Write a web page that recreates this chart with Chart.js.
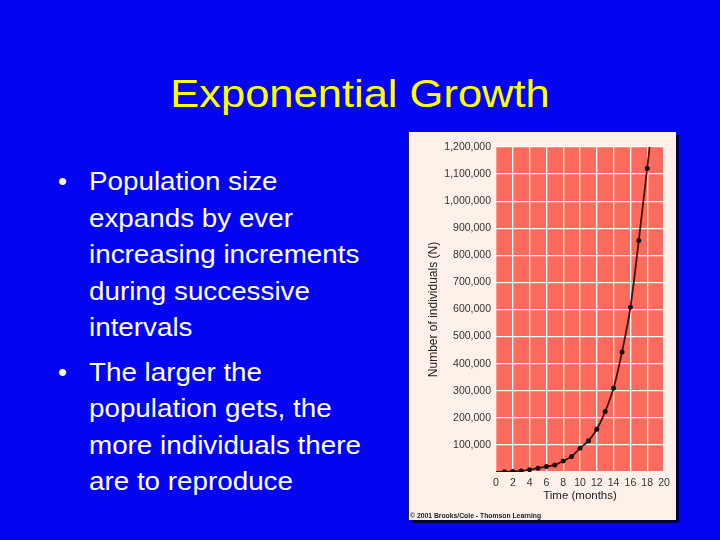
<!DOCTYPE html>
<html>
<head>
<meta charset="utf-8">
<script src="https://cdn.jsdelivr.net/npm/chart.js@4"></script>
<style>
  html, body { margin: 0; padding: 0; }
  body { width: 720px; height: 540px; background: #0404f4; position: relative; overflow: hidden;
         font-family: "Liberation Sans", Arial, sans-serif; }
  #title { position: absolute; left: 0; width: 720px; top: 74px; text-align: center;
           font-size: 39px; line-height: 39px; color: #ffff00;
           transform: scaleX(1.115); transform-origin: 360px 0; }
  .bullets { position: absolute; left: 0; top: 163px; margin: 0; padding: 0; list-style: none;
             color: #ffffff; font-size: 25.5px; line-height: 36.5px; }
  .bullets li { position: relative; padding-left: 89px; margin-bottom: 8px; }
  .bullets li span { display: inline-block; transform: scaleX(1.09); transform-origin: 0 0; white-space: nowrap; }
  .bullets li::before { content: "\2022"; position: absolute; left: 58px; }
  #panel { position: absolute; left: 408px; top: 132px; width: 267px; height: 388px;
           background: #fdf1e9; box-shadow: 3px 3px 0 #00004a; border-left: 1px solid #202040; }
  #panel canvas { position: absolute; left: 0; top: 0; }
  #credit { position: absolute; left: 1px; bottom: 1px; font-size: 6.8px; font-weight: bold; color: #222; }
</style>
</head>
<body>
<div id="title">Exponential Growth</div>
<ul class="bullets">
  <li><span>Population size<br>expands by ever<br>increasing increments<br>during successive<br>intervals</span></li>
  <li><span>The larger the<br>population gets, the<br>more individuals there<br>are to reproduce</span></li>
</ul>
<div id="panel">
  <canvas id="growthChart" width="267" height="388"></canvas>
  <div id="credit">© 2001 Brooks/Cole - Thomson Learning</div>
</div>
<script>
// months on the x axis, N (last entry only carries the line past the top)
const months = [0, 1, 2, 3, 4, 5, 6, 7, 8, 9, 10, 11, 12, 13, 14, 15, 16, 17, 18, 19];
const individuals = [500, 1000, 2000, 4000, 8500, 14000, 20000, 26000, 41000, 57000, 88000,
                     115000, 158000, 223000, 310000, 443000, 608000, 855000, 1121000, 1400000];
const xStep = 2;
const yStep = 100000;
const yMax = 1200000;

const plotBg = {
  id: 'plotBg',
  beforeDraw(chart) {
    const a = chart.chartArea, ctx = chart.ctx;
    ctx.save();
    ctx.fillStyle = '#fe6b5c';
    ctx.fillRect(a.left, a.top, a.right - a.left, a.bottom - a.top);
    ctx.restore();
  }
};

const fam = "'Liberation Sans', Arial, sans-serif";

new Chart(document.getElementById('growthChart'), {
  type: 'line',
  data: {
    datasets: [{
      data: months.map((m, i) => ({ x: m, y: individuals[i] })),
      borderColor: '#4a100c',
      borderWidth: 1.8,
      cubicInterpolationMode: 'monotone',
      pointRadius: months.map(m => (m === 0 || m > 18) ? 0 : 2.5),
      pointBackgroundColor: '#111',
      pointBorderWidth: 0,
      fill: false
    }]
  },
  plugins: [plotBg],
  options: {
    responsive: false,
    animation: false,
    layout: { padding: { left: 17, right: 12, top: 15, bottom: 17 } },
    plugins: { legend: { display: false }, tooltip: { enabled: false } },
    scales: {
      x: {
        type: 'linear', min: 0, max: 20,
        afterFit: s => { s.height = 31; },
        grid: { color: '#ffffff', lineWidth: 1.3, drawTicks: false },
        border: { display: false },
        ticks: { stepSize: xStep, autoSkip: false, font: { family: fam, size: 10.5 }, color: '#333', padding: 5, maxRotation: 0 },
        title: { display: true, text: 'Time (months)', color: '#222',
                 font: { family: fam, size: 11.5 }, padding: { top: 0, bottom: 0 } }
      },
      y: {
        min: 0, max: yMax,
        ticks: { stepSize: yStep, font: { family: fam, size: 10.5 }, color: '#333', padding: 5,
                 callback: v => v === 0 ? '' : v.toLocaleString('en-US') },
        afterFit: s => { s.width = 70; },
        grid: { color: '#ffffff', lineWidth: 1.3, drawTicks: false },
        border: { display: false },
        title: { display: true, text: 'Number of individuals (N)', color: '#222',
                 font: { family: fam, size: 12 }, padding: 0 }
      }
    }
  }
});
</script>
</body>
</html>
